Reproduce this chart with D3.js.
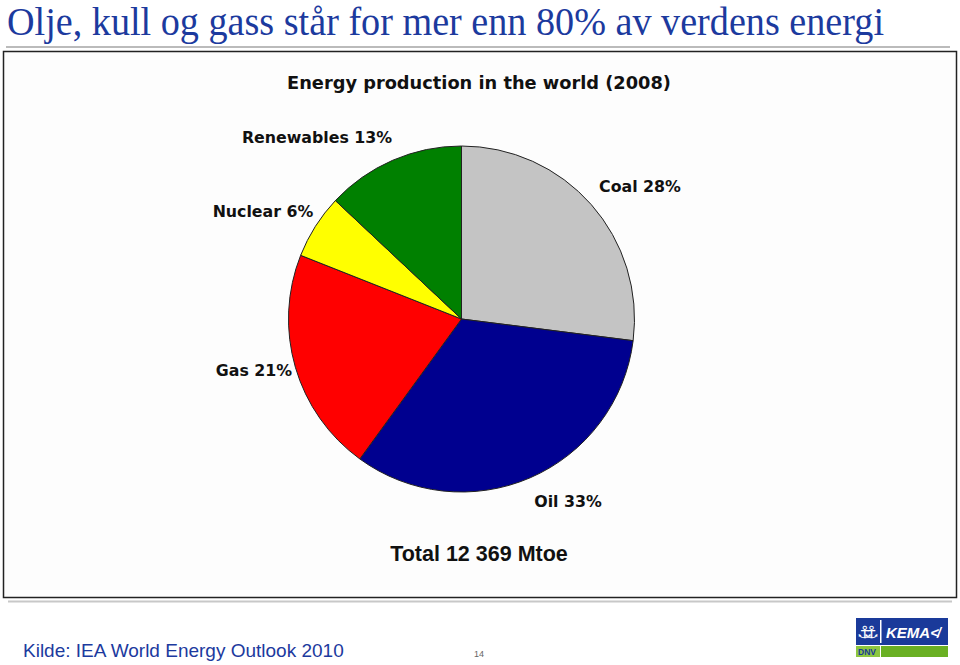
<!DOCTYPE html>
<html><head><meta charset="utf-8">
<script src="https://cdn.jsdelivr.net/npm/d3@7"></script>
<style>body{margin:0;background:#fff}svg{display:block}</style>
</head><body>
<script>
const categories = ["Coal", "Oil", "Gas", "Nuclear", "Renewables"];
const shares = [27, 33, 21, 6, 13];            // drawn slice sizes
const labelPct = ["28%", "33%", "21%", "6%", "13%"]; // printed labels
const colors = ["#c4c4c4", "#00008f", "#ff0000", "#ffff00", "#008000"];
const labelPos = [[640, 186], [568, 501], [254, 370], [263, 211], [317, 137]];
const totalText = "Total 12 369 Mtoe";

const W = 960, H = 665;
const svg = d3.select("body").append("svg").attr("width", W).attr("height", H);

svg.append("text").attr("x", 7).attr("y", 35)
  .attr("font-family", "'Liberation Serif','Times New Roman',serif")
  .attr("font-size", 39).attr("fill", "#1c3a9e")
  .attr("textLength", 877).attr("lengthAdjust", "spacingAndGlyphs")
  .text("Olje, kull og gass står for mer enn 80% av verdens energi");

svg.append("line").attr("x1", 6).attr("x2", 950).attr("y1", 47).attr("y2", 47)
  .attr("stroke", "#bbbbbb").attr("stroke-width", 2);

svg.append("rect").attr("x", 3.5).attr("y", 51.5).attr("width", 953).attr("height", 546)
  .attr("fill", "#fdfdfd").attr("stroke", "#222").attr("stroke-width", 1.5);

svg.append("line").attr("x1", 8).attr("x2", 952).attr("y1", 601.5).attr("y2", 601.5)
  .attr("stroke", "#c8c8c8").attr("stroke-width", 2);

svg.append("text").attr("x", 479).attr("y", 89).attr("text-anchor", "middle")
  .attr("font-family", "'DejaVu Sans',Verdana,sans-serif").attr("font-weight", "bold")
  .attr("font-size", 17.8).attr("fill", "#111").text("Energy production in the world (2008)");

const cx = 461.5, cy = 319, r = 173;
const pie = d3.pie().sort(null).value(d => d)(shares);
const arc = d3.arc().innerRadius(0).outerRadius(r);
svg.append("g").attr("transform", `translate(${cx},${cy})`)
  .selectAll("path").data(pie).join("path")
  .attr("d", arc).attr("fill", (d, i) => colors[i])
  .attr("stroke", "#222").attr("stroke-width", 1);

svg.append("g").selectAll("text").data(categories).join("text")
  .attr("x", (d, i) => labelPos[i][0]).attr("y", (d, i) => labelPos[i][1] + 6)
  .attr("text-anchor", "middle")
  .attr("font-family", "'DejaVu Sans',Verdana,sans-serif").attr("font-weight", "bold")
  .attr("font-size", 15.8).attr("fill", "#111")
  .text((d, i) => d + " " + labelPct[i]);

svg.append("text").attr("x", 479).attr("y", 561).attr("text-anchor", "middle")
  .attr("font-family", "'Liberation Sans',Arial,sans-serif").attr("font-weight", "bold")
  .attr("font-size", 21.5).attr("fill", "#111").text(totalText);

svg.append("text").attr("x", 23).attr("y", 657)
  .attr("font-family", "'Liberation Sans',Arial,sans-serif")
  .attr("font-size", 19).attr("fill", "#1c3a9e").text("Kilde: IEA World Energy Outlook 2010");

svg.append("text").attr("x", 479).attr("y", 657).attr("text-anchor", "middle")
  .attr("font-family", "'Liberation Sans',Arial,sans-serif")
  .attr("font-size", 9).attr("fill", "#666").text("14");

// logo
const lg = svg.append("g").attr("transform", "translate(856,618)");
lg.append("rect").attr("x", 0).attr("y", 0).attr("width", 92).attr("height", 27).attr("fill", "#1a3a9a");
lg.append("rect").attr("x", 24).attr("y", 2).attr("width", 1.5).attr("height", 23).attr("fill", "#fff");
lg.append("rect").attr("x", 0).attr("y", 28).attr("width", 24).attr("height", 11).attr("fill", "#8cc63f");
lg.append("rect").attr("x", 25).attr("y", 28).attr("width", 67).attr("height", 11).attr("fill", "#6ab023");
lg.append("text").attr("x", 12).attr("y", 20).attr("text-anchor", "middle")
  .attr("font-family", "'DejaVu Sans',sans-serif").attr("font-size", 17).attr("fill", "#fff").text("⚓⚓").attr("textLength", 22);
lg.append("text").attr("x", 30).attr("y", 20)
  .attr("font-family", "'Liberation Sans',Arial,sans-serif").attr("font-weight", "bold").attr("font-style", "italic")
  .attr("font-size", 15).attr("fill", "#fff").text("KEMA≮");
lg.append("text").attr("x", 2).attr("y", 37)
  .attr("font-family", "'Liberation Sans',Arial,sans-serif").attr("font-weight", "bold")
  .attr("font-size", 8.5).attr("fill", "#1a3a9a").text("DNV");
</script>
</body></html>
